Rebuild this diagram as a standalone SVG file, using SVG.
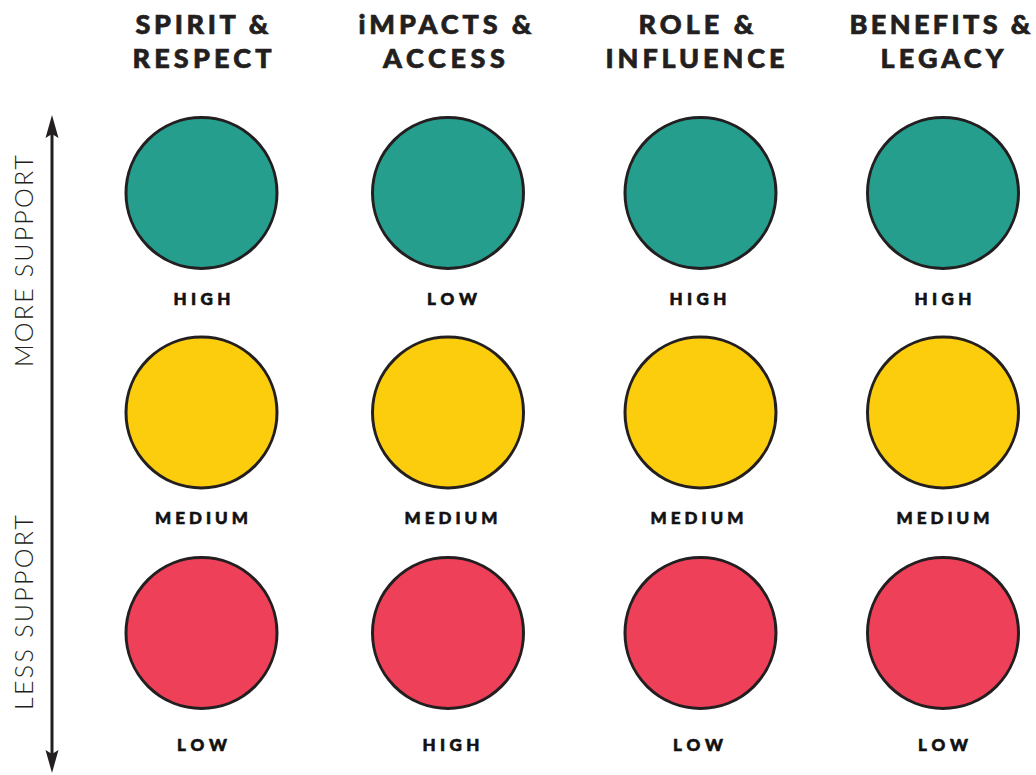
<svg xmlns="http://www.w3.org/2000/svg" width="1036" height="775" viewBox="0 0 1036 775">
  <style>
    .head { font-family: Lato, "Open Sans", sans-serif; font-weight: 900; font-size: 27px; fill: #231F20; stroke: #231F20; stroke-width: 0.7; text-anchor: middle; }
    .lvl { font-family: Lato, "Open Sans", sans-serif; font-weight: 900; font-size: 17px; fill: #111; stroke: #111; stroke-width: 0.6; text-anchor: middle; }
    .axis-label { font-family: Lato, "Open Sans", sans-serif; font-weight: 300; font-size: 25px; fill: #231F20; text-anchor: middle; }
    .dot { stroke: #231F20; stroke-width: 3; }
    .hi { fill: #269E8E; }
    .mid { fill: #FBCD0D; }
    .lo { fill: #EF405A; }
  </style>

  <rect width="1036" height="775" fill="#FFFFFF"/>

  <!-- column headings -->
  <g id="head-spirit">
    <text class="head" x="202" y="34" textLength="133" lengthAdjust="spacing">SPIRIT &amp;</text>
    <text class="head" x="202" y="68" textLength="139" lengthAdjust="spacing">RESPECT</text>
  </g>
  <g id="head-impacts">
    <text class="head" x="445" y="34" textLength="173" lengthAdjust="spacing">iMPACTS &amp;</text>
    <text class="head" x="444" y="68" textLength="122" lengthAdjust="spacing">ACCESS</text>
  </g>
  <g id="head-role">
    <text class="head" x="696" y="34" textLength="115" lengthAdjust="spacing">ROLE &amp;</text>
    <text class="head" x="695" y="68" textLength="179" lengthAdjust="spacing">INFLUENCE</text>
  </g>
  <g id="head-benefits">
    <text class="head" x="940" y="34" textLength="181" lengthAdjust="spacing">BENEFITS &amp;</text>
    <text class="head" x="942" y="68" textLength="123" lengthAdjust="spacing">LEGACY</text>
  </g>

  <!-- vertical support axis -->
  <g id="axis">
    <line x1="52" y1="130" x2="52" y2="760" stroke="#231F20" stroke-width="3"/>
    <path d="M52 115 L58.5 138 L52 134 L45.5 138 Z" fill="#231F20"/>
    <path d="M52 773 L58.5 750 L52 754 L45.5 750 Z" fill="#231F20"/>
    <text class="axis-label" transform="translate(33 261) rotate(-90)" textLength="212" lengthAdjust="spacing">MORE SUPPORT</text>
    <text class="axis-label" transform="translate(33 612.5) rotate(-90)" textLength="195" lengthAdjust="spacing">LESS SUPPORT</text>
  </g>

  <!-- row 1 -->
  <g id="spirit-high">
    <circle class="dot hi" cx="201.5" cy="193" r="75.5"/>
    <text class="lvl" x="202" y="305" textLength="57" lengthAdjust="spacing">HIGH</text>
  </g>
  <g id="impacts-high">
    <circle class="dot hi" cx="448" cy="193" r="75.5"/>
    <text class="lvl" x="452" y="305" textLength="50" lengthAdjust="spacing">LOW</text>
  </g>
  <g id="role-high">
    <circle class="dot hi" cx="700.5" cy="193" r="75.5"/>
    <text class="lvl" x="698" y="305" textLength="57" lengthAdjust="spacing">HIGH</text>
  </g>
  <g id="benefits-high">
    <circle class="dot hi" cx="943" cy="193" r="75.5"/>
    <text class="lvl" x="943" y="305" textLength="57" lengthAdjust="spacing">HIGH</text>
  </g>

  <!-- row 2 -->
  <g id="spirit-medium">
    <circle class="dot mid" cx="201.5" cy="412.5" r="75.5"/>
    <text class="lvl" x="201.5" y="524" textLength="93" lengthAdjust="spacing">MEDIUM</text>
  </g>
  <g id="impacts-medium">
    <circle class="dot mid" cx="448" cy="412.5" r="75.5"/>
    <text class="lvl" x="451" y="524" textLength="93" lengthAdjust="spacing">MEDIUM</text>
  </g>
  <g id="role-medium">
    <circle class="dot mid" cx="700.5" cy="412.5" r="75.5"/>
    <text class="lvl" x="697" y="524" textLength="93" lengthAdjust="spacing">MEDIUM</text>
  </g>
  <g id="benefits-medium">
    <circle class="dot mid" cx="943" cy="412.5" r="75.5"/>
    <text class="lvl" x="943" y="524" textLength="93" lengthAdjust="spacing">MEDIUM</text>
  </g>

  <!-- row 3 -->
  <g id="spirit-low">
    <circle class="dot lo" cx="201.5" cy="633" r="75.5"/>
    <text class="lvl" x="202" y="751" textLength="50" lengthAdjust="spacing">LOW</text>
  </g>
  <g id="impacts-low">
    <circle class="dot lo" cx="448" cy="633" r="75.5"/>
    <text class="lvl" x="451" y="751" textLength="57" lengthAdjust="spacing">HIGH</text>
  </g>
  <g id="role-low">
    <circle class="dot lo" cx="700.5" cy="633" r="75.5"/>
    <text class="lvl" x="698" y="751" textLength="50" lengthAdjust="spacing">LOW</text>
  </g>
  <g id="benefits-low">
    <circle class="dot lo" cx="943" cy="633" r="75.5"/>
    <text class="lvl" x="943" y="751" textLength="50" lengthAdjust="spacing">LOW</text>
  </g>
</svg>
